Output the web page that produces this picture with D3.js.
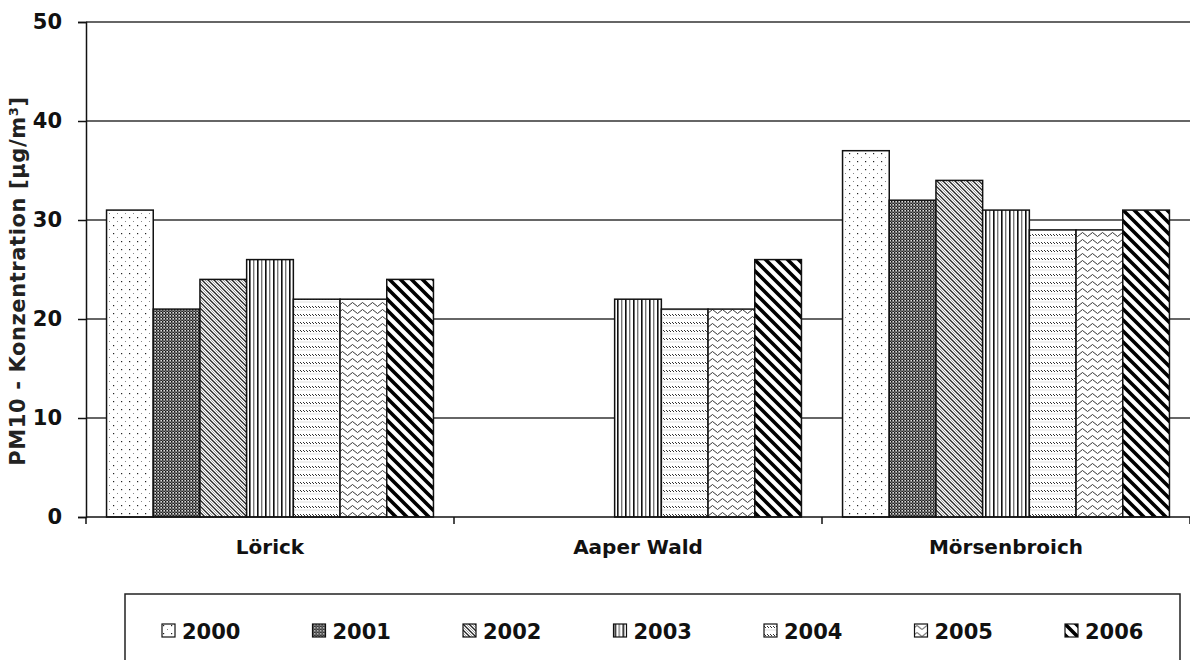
<!DOCTYPE html>
<html>
<head>
<meta charset="utf-8">
<script src="https://cdn.jsdelivr.net/npm/d3@7"></script>
<style>
  html, body { margin: 0; padding: 0; background: #fff; }
  svg { display: block; }
</style>
</head>
<body>
<svg width="1190" height="660"></svg>
<script>
// data
const sites = ['Lörick', 'Aaper Wald', 'Mörsenbroich'];
const years = ['2000', '2001', '2002', '2003', '2004', '2005', '2006'];
const pm2000 = [31, null, 37];
const pm2001 = [21, null, 32];
const pm2002 = [24, null, 34];
const pm2003 = [26, 22, 31];
const pm2004 = [22, 21, 29];
const pm2005 = [22, 21, 29];
const pm2006 = [24, 26, 31];
const yTicks = [0, 10, 20, 30, 40, 50];

const series = [pm2000, pm2001, pm2002, pm2003, pm2004, pm2005, pm2006];

const SVG = d3.select('svg');
const LEFT = 86, RIGHT = 1190, TOP = 22, BOTTOM = 517;
const FONT = 'DejaVu Sans, Verdana, sans-serif';

// patterns, one per year
const DEFS = SVG.append('defs');
function pattern(id, w, h, bg) {
  const p = DEFS.append('pattern')
    .attr('id', id)
    .attr('patternUnits', 'userSpaceOnUse')
    .attr('width', w)
    .attr('height', h);
  p.append('rect').attr('width', w).attr('height', h).attr('fill', bg || '#fff');
  return p;
}
// 2000 sparse dots
let p = pattern('p2000', 8, 8);
p.append('rect').attr('x', 1).attr('y', 1).attr('width', 1.2).attr('height', 1.2).attr('fill', '#222');
p.append('rect').attr('x', 5).attr('y', 5).attr('width', 1).attr('height', 1).attr('fill', '#888');
// 2001 dense dark checker
p = pattern('p2001', 3, 3, '#777');
p.append('rect').attr('x', 0).attr('y', 0).attr('width', 1.5).attr('height', 1.5).attr('fill', '#111');
p.append('rect').attr('x', 1.5).attr('y', 1.5).attr('width', 1.5).attr('height', 1.5).attr('fill', '#222');
p.append('rect').attr('x', 1.5).attr('y', 0).attr('width', 1.5).attr('height', 1.5).attr('fill', '#ddd');
// 2002 thin diagonal
p = pattern('p2002', 6, 6);
p.append('path').attr('d', 'M-1,-1 L7,7 M-1,5 L1,7 M5,-1 L7,1').attr('stroke', '#222').attr('stroke-width', 1.3);
p.append('path').attr('d', 'M2,-1 L7,4 M-1,2 L4,7').attr('stroke', '#999').attr('stroke-width', 0.9);
// 2003 vertical lines
p = pattern('p2003', 8, 8);
p.append('rect').attr('x', 1).attr('y', 0).attr('width', 1.6).attr('height', 8).attr('fill', '#111');
p.append('rect').attr('x', 5).attr('y', 0).attr('width', 1.4).attr('height', 8).attr('fill', '#777');
// 2004 rows of small ticks
p = pattern('p2004', 6, 8);
p.append('path').attr('d', 'M0,2 L2,4 M3,2 L5,4').attr('stroke', '#333').attr('stroke-width', 1);
p.append('path').attr('d', 'M0,6 L6,6').attr('stroke', '#ccc').attr('stroke-width', 0.6);
// 2005 wavy lines
p = pattern('p2005', 10, 7);
p.append('path').attr('d', 'M0,3.5 L2.5,1.5 L5,3.5 L7.5,5.5 L10,3.5').attr('fill', 'none').attr('stroke', '#333').attr('stroke-width', 1);
// 2006 thick diagonal
p = pattern('p2006', 11, 11);
p.append('path').attr('d', 'M-2,-2 L13,13 M-2,9 L2,13 M9,-2 L13,2').attr('stroke', '#000').attr('stroke-width', 3.6);

// scales
const X0 = d3.scaleBand().domain(sites).range([LEFT, RIGHT]).padding(0);
const X1 = d3.scaleBand().domain(years).range([0, X0.bandwidth()]).paddingInner(0).paddingOuter(0.44);
const Y = d3.scaleLinear().domain([0, 50]).range([BOTTOM, TOP]);

// gridlines
SVG.append('g')
  .selectAll('line')
  .data(yTicks.filter(d => d > 0))
  .join('line')
  .attr('x1', LEFT).attr('x2', RIGHT)
  .attr('y1', d => Y(d)).attr('y2', d => Y(d))
  .attr('stroke', '#333')
  .attr('stroke-width', 1.4);

// bars
const BARS = SVG.append('g');
years.forEach((yr, i) => {
  BARS.append('g')
    .selectAll('rect')
    .data(series[i].map((v, j) => ({ site: sites[j], v })).filter(d => d.v != null))
    .join('rect')
    .attr('x', d => X0(d.site) + X1(yr))
    .attr('y', d => Y(d.v))
    .attr('width', X1.bandwidth())
    .attr('height', d => Y(0) - Y(d.v))
    .attr('fill', `url(#p${yr})`)
    .attr('stroke', '#111')
    .attr('stroke-width', 1.5);
});

// y axis
const Y_AXIS_G = SVG.append('g').attr('transform', `translate(${LEFT},0)`);
Y_AXIS_G.call(d3.axisLeft(Y).tickValues(yTicks).tickSize(8).tickPadding(16));
Y_AXIS_G.select('.domain').attr('stroke', '#111').attr('stroke-width', 1.5);
Y_AXIS_G.selectAll('.tick line').attr('stroke', '#111').attr('stroke-width', 1.5);
Y_AXIS_G.selectAll('.tick text')
  .attr('font-family', FONT).attr('font-weight', 'bold').attr('font-size', 21).attr('fill', '#111');

// x axis
const X_AXIS_G = SVG.append('g').attr('transform', `translate(0,${BOTTOM})`);
X_AXIS_G.append('line')
  .attr('x1', LEFT).attr('x2', RIGHT)
  .attr('stroke', '#111').attr('stroke-width', 1.5);
X_AXIS_G.selectAll('line.tk')
  .data([LEFT].concat(sites.map(s => X0(s) + X0.bandwidth())))
  .join('line')
  .attr('class', 'tk')
  .attr('x1', d => d).attr('x2', d => d)
  .attr('y1', 0).attr('y2', 7)
  .attr('stroke', '#111').attr('stroke-width', 1.5);
X_AXIS_G.selectAll('text')
  .data(sites)
  .join('text')
  .attr('x', d => X0(d) + X0.bandwidth() / 2)
  .attr('y', 37)
  .attr('text-anchor', 'middle')
  .attr('font-family', FONT).attr('font-weight', 'bold').attr('font-size', 20)
  .attr('fill', '#111')
  .text(d => d);

// y title
SVG.append('text')
  .attr('transform', 'translate(25,281) rotate(-90)')
  .attr('text-anchor', 'middle')
  .attr('font-family', FONT).attr('font-size', 21).attr('font-weight', 'bold')
  .attr('letter-spacing', 0.6)
  .attr('fill', '#222')
  .text('PM10 - Konzentration [µg/m³]');

// legend
const LEG = SVG.append('g');
LEG.append('rect')
  .attr('x', 125).attr('y', 594)
  .attr('width', 1055).attr('height', 100)
  .attr('fill', '#fff')
  .attr('stroke', '#222').attr('stroke-width', 1.5);
const LX = d3.scalePoint().domain(years).range([162, 1065]);
const ITEM = LEG.selectAll('g.item')
  .data(years)
  .join('g')
  .attr('class', 'item')
  .attr('transform', d => `translate(${LX(d)},624)`);
ITEM.append('rect')
  .attr('width', 13).attr('height', 13)
  .attr('fill', d => `url(#p${d})`)
  .attr('stroke', '#111').attr('stroke-width', 1.2);
ITEM.append('text')
  .attr('x', 20).attr('y', 14.5)
  .attr('font-family', FONT).attr('font-weight', 'bold').attr('font-size', 21)
  .attr('fill', '#111')
  .text(d => d);
</script>
</body>
</html>
